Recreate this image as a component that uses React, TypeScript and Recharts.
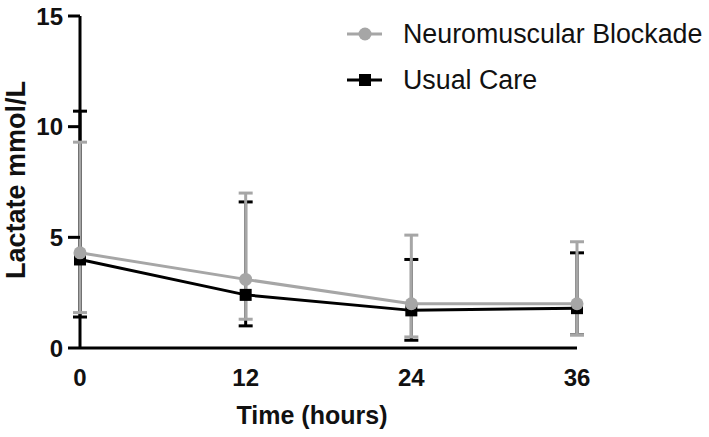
import React from 'react';
import { LineChart, Line, XAxis, YAxis, ErrorBar, Label, CartesianGrid } from 'recharts';

const hours = [0, 12, 24, 36];
const xTicks = [0, 12, 24, 36];
const yTicks = [0, 5, 10, 15];

const nmbMean = [4.3, 3.1, 2.0, 2.0];
const nmbLow = [1.6, 1.3, 0.5, 0.6];
const nmbHigh = [9.3, 7.0, 5.1, 4.8];

const ucMean = [4.0, 2.4, 1.7, 1.8];
const ucLow = [1.4, 1.0, 0.35, 0.6];
const ucHigh = [10.7, 6.6, 4.0, 4.3];

const seriesNames = ['Neuromuscular Blockade', 'Usual Care'];
const xTitle = 'Time (hours)';
const yTitle = 'Lactate mmol/L';

const GRAY = '#a6a6a6';
const BLACK = '#000000';
const FONT = '"Liberation Sans", Arial, Helvetica, sans-serif';

const data = hours.map((t, i) => ({
  t,
  nmb: nmbMean[i],
  nmbErr: [nmbMean[i] - nmbLow[i], nmbHigh[i] - nmbMean[i]],
  uc: ucMean[i],
  ucErr: [ucMean[i] - ucLow[i], ucHigh[i] - ucMean[i]],
}));

const SquareDot = (props: any) => {
  const { cx, cy, index } = props;
  if (cx == null || cy == null) return null;
  return <rect key={`sq-${index}`} x={cx - 6} y={cy - 6} width={12} height={12} fill={BLACK} />;
};

const LegendBox = () => (
  <svg width={379} height={100} style={{ display: 'block', position: 'absolute', left: 330, top: 0 }}>
    <line x1={17} y1={34} x2={52} y2={34} stroke={GRAY} strokeWidth={3} />
    <circle cx={35} cy={34} r={6.5} fill={GRAY} />
    <text x={73} y={43} fontFamily={FONT} fontSize={26.8} fill="#111">
      {seriesNames[0]}
    </text>
    <line x1={17} y1={80} x2={52} y2={80} stroke={BLACK} strokeWidth={3} />
    <rect x={29} y={74} width={12} height={12} fill={BLACK} />
    <text x={73} y={89} fontFamily={FONT} fontSize={26.8} fill="#111">
      {seriesNames[1]}
    </text>
  </svg>
);

export default function App() {
  return (
    <div style={{ position: 'absolute', left: 0, top: 0, width: 709, height: 437, background: '#fff' }}>
      <LineChart width={709} height={437} data={data} margin={{ top: 16, right: 132, bottom: 0, left: 0 }}>
        <CartesianGrid horizontal={false} vertical verticalValues={[0]} stroke={BLACK} strokeWidth={3} />
        <XAxis
          dataKey="t"
          type="number"
          domain={[0, 36]}
          ticks={xTicks}
          axisLine={{ stroke: BLACK, strokeWidth: 3 }}
          tickLine={false}
          tickSize={10}
          tickMargin={11}
          height={89}
          tick={{ fontFamily: FONT, fontSize: 24, fontWeight: 'bold', fill: '#111' }}
        >
          <Label
            content={() => (
              <text x={312} y={424} textAnchor="middle" fontFamily={FONT} fontSize={25} fontWeight="bold" fill="#111">
                {xTitle}
              </text>
            )}
          />
        </XAxis>
        <YAxis
          type="number"
          domain={[0, 15]}
          ticks={yTicks}
          width={80}
          axisLine={false}
          tickLine={{ stroke: BLACK, strokeWidth: 3 }}
          tickSize={12}
          tickMargin={5}
          tick={{ fontFamily: FONT, fontSize: 24, fontWeight: 'bold', fill: '#111' }}
        >
          <Label
            content={() => (
              <text
                x={25}
                y={180}
                transform="rotate(-90 25 180)"
                textAnchor="middle"
                fontFamily={FONT}
                fontSize={27}
                fontWeight="bold"
                fill="#111"
              >
                {yTitle}
              </text>
            )}
          />
        </YAxis>
        <Line
          dataKey="uc"
          name={seriesNames[1]}
          stroke={BLACK}
          strokeWidth={3}
          dot={SquareDot}
          activeDot={false}
          isAnimationActive={false}
        >
          <ErrorBar dataKey="ucErr" direction="y" width={7} stroke={BLACK} strokeWidth={3} />
        </Line>
        <Line
          dataKey="nmb"
          name={seriesNames[0]}
          stroke={GRAY}
          strokeWidth={3}
          dot={{ r: 6.5, fill: GRAY, stroke: 'none' }}
          activeDot={false}
          isAnimationActive={false}
        >
          <ErrorBar dataKey="nmbErr" direction="y" width={7} stroke={GRAY} strokeWidth={3} />
        </Line>
      </LineChart>
      <LegendBox />
    </div>
  );
}
